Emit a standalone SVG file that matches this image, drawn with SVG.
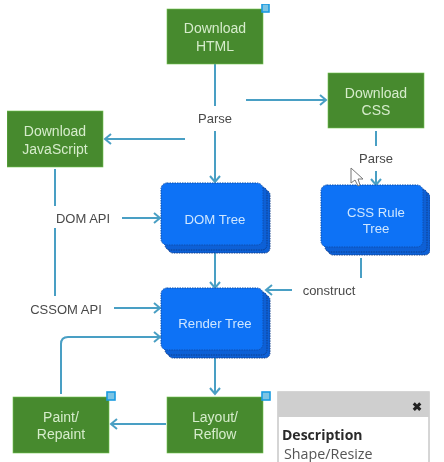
<svg xmlns="http://www.w3.org/2000/svg" width="444" height="462" viewBox="0 0 444 462">
<style>
text{font-family:"Liberation Sans",Arial,sans-serif;text-anchor:middle}
.g rect{fill:#478a2f;stroke:#6fc24a;stroke-width:.6}
.g text{fill:#d6eccb;font-size:14px}
.lb{fill:#4a4a4a;font-size:13px}
.b text{fill:#cfe6ff;font-size:13.2px}
.l3{fill:#0f60d6;stroke:#123f8c;stroke-width:1;stroke-dasharray:1.5 1}
.l1{fill:#0a72f6;stroke:#0c4fae;stroke-width:1;stroke-dasharray:1.5 1}
.c path{fill:none;stroke:#4a9fc4;stroke-width:2;stroke-linecap:butt}
</style>
<defs>
<filter id="soft" x="0" y="0" width="100%" height="100%"><feGaussianBlur stdDeviation="0.45"/></filter>
<marker id="a" markerUnits="userSpaceOnUse" markerWidth="12" markerHeight="12" refX="8" refY="6" orient="auto"><path d="M2 1 L8 6 L2 11" fill="none" stroke="#4a9fc4" stroke-width="2"/></marker>
<g id="stack">
<rect class="l3" x="7" y="7" width="102" height="63" rx="5"/>
<rect class="l3" x="4" y="4" width="102" height="63" rx="5"/>
<rect class="l1" x="0" y="0" width="102" height="62" rx="6"/>
</g>
</defs>
<rect width="444" height="462" fill="#fff"/>
<g filter="url(#soft)">
<g class="c" id="connectors">
<path d="M215 64V106"/>
<path d="M215 131V182" marker-end="url(#a)"/>
<path d="M185 139H105" marker-end="url(#a)"/>
<path d="M246 100H326" marker-end="url(#a)"/>
<path d="M376 131V146"/>
<path d="M376 171V185" marker-end="url(#a)"/>
<path d="M55 169V206"/>
<path d="M55 228V296"/>
<path d="M122 218H160" marker-end="url(#a)"/>
<path d="M114 308H160" marker-end="url(#a)"/>
<path d="M61 394V344Q61 337 68 337H160" marker-end="url(#a)"/>
<path d="M215 253V288" marker-end="url(#a)"/>
<path d="M215 358V394" marker-end="url(#a)"/>
<path d="M166 424H111" marker-end="url(#a)"/>
<path d="M361 258V278"/>
<path d="M292 290H266" stroke-width="1.5" marker-end="url(#a)"/>
</g>
<g class="g" id="download-html"><rect x="167" y="9" width="96" height="55"/><text x="215" y="33">Download</text><text x="215" y="51">HTML</text><rect x="262" y="4" width="7" height="8" style="fill:#7cc4e4;stroke:#1a9be0;stroke-width:1.6"/></g>
<g class="g" id="download-js"><rect x="7" y="111" width="96" height="56"/><text x="55" y="136">Download</text><text x="55" y="154">JavaScript</text></g>
<g class="g" id="download-css"><rect x="328" y="73" width="96" height="55"/><text x="376" y="98">Download</text><text x="376" y="115">CSS</text></g>
<g class="g" id="paint"><rect x="13" y="397" width="96" height="56"/><text x="61" y="422">Paint/</text><text x="61" y="439">Repaint</text><rect x="107" y="392" width="8" height="8" style="fill:#7cc4e4;stroke:#1a9be0;stroke-width:1.6"/></g>
<g class="g" id="layout"><rect x="167" y="397" width="96" height="56"/><text x="215" y="422">Layout/</text><text x="215" y="439">Reflow</text><rect x="262" y="392" width="8" height="8" style="fill:#7cc4e4;stroke:#1a9be0;stroke-width:1.6"/></g>
<g class="b" id="dom-tree"><use href="#stack" x="161" y="183"/><text x="215" y="224">DOM Tree</text></g>
<g class="b" id="css-rule-tree"><use href="#stack" x="321" y="185"/><text x="376" y="217">CSS Rule</text><text x="376" y="233">Tree</text></g>
<g class="b" id="render-tree"><use href="#stack" x="161" y="288"/><text x="215" y="328">Render Tree</text></g>
<g id="labels">
<text class="lb" x="215" y="123">Parse</text>
<text class="lb" x="376" y="163">Parse</text>
<text class="lb" x="83" y="223">DOM API</text>
<text class="lb" x="66" y="314">CSSOM API</text>
<text class="lb" x="329" y="295">construct</text>
</g>
<g id="cursor"><path d="M351 168V183L355 180L358 186L360 185L358 179L363 179Z" fill="#fff" stroke="#777"/></g>
<g id="popup">
<rect x="278" y="392" width="151" height="72" fill="#fff" stroke="#c8c8c8" stroke-width="1.5"/>
<rect x="278" y="392" width="151" height="25" fill="#cfcfcf"/>
<text x="417" y="411" font-size="12" font-weight="bold" fill="#222">✖</text>
<text x="282" y="440" font-size="14" font-weight="bold" fill="#2a2a2a" style="text-anchor:start;font-family:'Open Sans','Liberation Sans',sans-serif">Description</text>
<text x="284" y="459" font-size="14.3" fill="#555" style="text-anchor:start;font-family:'Open Sans','Liberation Sans',sans-serif">Shape/Resize</text>
</g>
</g>
</svg>
